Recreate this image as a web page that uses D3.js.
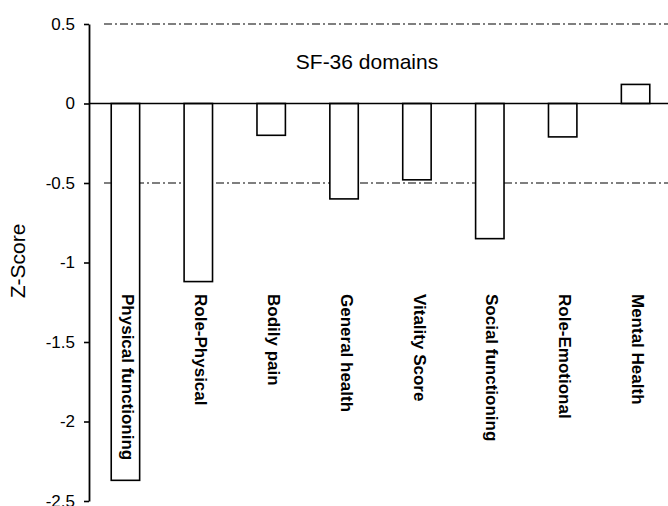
<!DOCTYPE html>
<html>
<head>
<meta charset="utf-8">
<script src="https://cdn.jsdelivr.net/npm/d3@7"></script>
<style>
  html, body { margin: 0; padding: 0; background: #fff; }
  svg { display: block; font-family: "Liberation Sans", Arial, sans-serif; }
</style>
</head>
<body>
<svg id="chart" width="668" height="506"></svg>
<script>
const categories = ["Physical functioning", "Role-Physical", "Bodily pain", "General health",
                    "Vitality Score", "Social functioning", "Role-Emotional", "Mental Health"];
const zScores = [-2.37, -1.12, -0.20, -0.60, -0.48, -0.85, -0.21, 0.12];
const tickValues = [0.5, 0, -0.5, -1, -1.5, -2, -2.5];
const tickLabels = ["0.5", "0", "-0.5", "-1", "-1.5", "-2", "-2.5"];
const referenceLines = [0.5, -0.5];
const chartTitle = "SF-36 domains";
const yTitle = "Z-Score";

const svg = d3.select("#chart");
const W = 668;

const y = d3.scaleLinear().domain([-2.5, 0.5]).range([501, 24]);
const x = d3.scaleBand().domain(categories).range([89, 672])
  .paddingInner(0.61).paddingOuter(0.305);

// reference dash-dot lines
svg.selectAll("line.ref").data(referenceLines).join("line")
  .attr("class", "ref")
  .attr("x1", 104).attr("x2", W)
  .attr("y1", d => y(d)).attr("y2", d => y(d))
  .attr("stroke", "#000").attr("stroke-width", 1.1)
  .attr("stroke-dasharray", "8,3,2,3");

// bars
svg.selectAll("rect.bar").data(categories).join("rect")
  .attr("class", "bar")
  .attr("x", d => x(d))
  .attr("width", x.bandwidth())
  .attr("y", (d, i) => Math.min(y(0), y(zScores[i])))
  .attr("height", (d, i) => Math.abs(y(zScores[i]) - y(0)))
  .attr("fill", "#fff").attr("stroke", "#000").attr("stroke-width", 1.6);

// zero line
svg.append("line")
  .attr("x1", 89).attr("x2", W)
  .attr("y1", y(0)).attr("y2", y(0))
  .attr("stroke", "#000").attr("stroke-width", 1.6);

// y axis
const yAxis = d3.axisLeft(y)
  .tickValues(tickValues)
  .tickFormat((d, i) => tickLabels[i])
  .tickSize(5).tickSizeOuter(0).tickPadding(9);
const gy = svg.append("g").attr("transform", "translate(89,0)").call(yAxis);
gy.select(".domain").attr("stroke", "#000").attr("stroke-width", 1.8);
gy.selectAll(".tick line").attr("stroke", "#000").attr("stroke-width", 1.6);
gy.selectAll(".tick text")
  .attr("fill", "#000")
  .style("font-family", "'Liberation Sans', Arial, sans-serif")
  .style("font-size", "17px");

// category labels (rotated)
svg.selectAll("text.cat").data(categories).join("text")
  .attr("class", "cat")
  .attr("transform", d => `translate(${x(d) + x.bandwidth() / 2},294) rotate(90)`)
  .attr("dy", "0.2em")
  .attr("text-anchor", "start")
  .style("font-size", "17px")
  .style("font-weight", "bold")
  .attr("fill", "#000")
  .text(d => d);

// title
svg.append("text")
  .attr("x", 367).attr("y", 69)
  .attr("text-anchor", "middle")
  .style("font-size", "21px")
  .attr("fill", "#000")
  .text(chartTitle);

// y title
svg.append("text")
  .attr("transform", "translate(25,261) rotate(-90)")
  .attr("text-anchor", "middle")
  .style("font-size", "21px")
  .attr("fill", "#000")
  .text(yTitle);
</script>
</body>
</html>
